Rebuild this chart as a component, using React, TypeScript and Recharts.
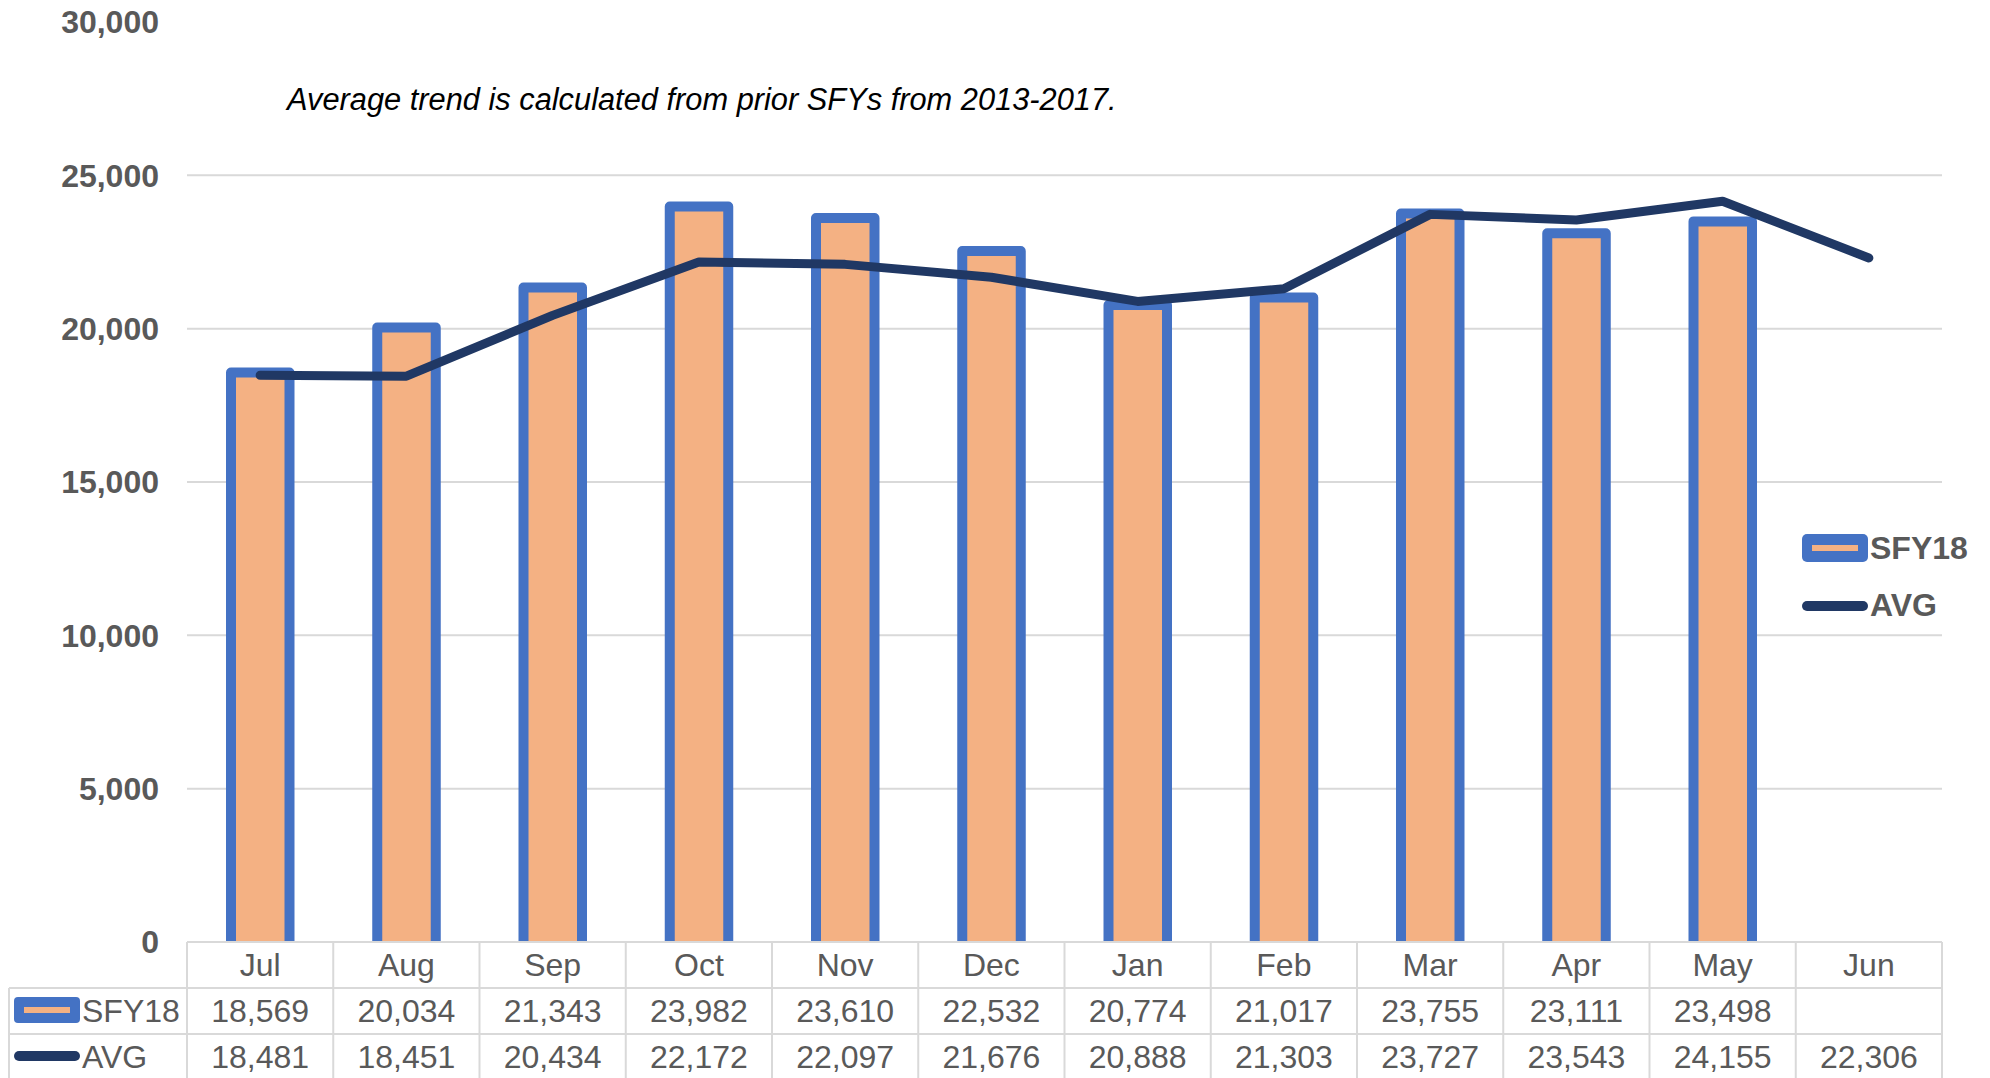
import React from 'react';
import { ComposedChart, Bar, Line, XAxis, YAxis, CartesianGrid } from 'recharts';

const months = ['Jul', 'Aug', 'Sep', 'Oct', 'Nov', 'Dec', 'Jan', 'Feb', 'Mar', 'Apr', 'May', 'Jun'];
const sfy18: (number | null)[] = [18569, 20034, 21343, 23982, 23610, 22532, 20774, 21017, 23755, 23111, 23498, null];
const avg: number[] = [18481, 18451, 20434, 22172, 22097, 21676, 20888, 21303, 23727, 23543, 24155, 22306];
const yTicks = [0, 5000, 10000, 15000, 20000, 25000, 30000];
const gridValues = [5000, 10000, 15000, 20000, 25000];
const note = 'Average trend is calculated from prior SFYs from 2013-2017.';

const data = months.map((m, i) => ({ month: m, sfy18: sfy18[i], avg: avg[i] }));

const W = 1990;
const H = 1078;
const M_TOP = 22;
const M_RIGHT = 48;
const Y_W = 187;
const X_H = 136;
const PLOT_W = W - M_RIGHT - Y_W;
const AXIS_Y = H - X_H;
const CELL_W = PLOT_W / months.length;
const ROW1 = AXIS_Y + 46;
const ROW2 = AXIS_Y + 92;
const FONT = '"Liberation Sans", Arial, sans-serif';
const GRAY = '#595959';
const LINE_GRAY = '#D9D9D9';
const BLUE = '#4472C4';
const ORANGE = '#F4B183';
const NAVY = '#203864';

const fmt = (v: number | null) => (v == null ? '' : v.toLocaleString('en-US'));

const TableTick = (props: any) => {
  const { x, payload, index } = props;
  const i = index as number;
  const l = x - CELL_W / 2;
  const r = x + CELL_W / 2;
  const textProps = {
    textAnchor: 'middle' as const,
    dominantBaseline: 'central' as const,
    fontSize: 32,
    fill: GRAY,
    fontFamily: FONT,
  };
  return (
    <g>
      <line x1={l} x2={l} y1={AXIS_Y} y2={H + 5} stroke={LINE_GRAY} strokeWidth={2} />
      {i === months.length - 1 && (
        <line x1={r} x2={r} y1={AXIS_Y} y2={H + 5} stroke={LINE_GRAY} strokeWidth={2} />
      )}
      <line x1={l} x2={r} y1={ROW1} y2={ROW1} stroke={LINE_GRAY} strokeWidth={2} />
      <line x1={l} x2={r} y1={ROW2} y2={ROW2} stroke={LINE_GRAY} strokeWidth={2} />
      <text x={x} y={AXIS_Y + 23} {...textProps}>{payload.value}</text>
      <text x={x} y={ROW1 + 23} {...textProps}>{fmt(sfy18[i])}</text>
      <text x={x} y={ROW2 + 23} {...textProps}>{fmt(avg[i])}</text>
      {i === 0 && (
        <g>
          <line x1={9} x2={l} y1={ROW1} y2={ROW1} stroke={LINE_GRAY} strokeWidth={2} />
          <line x1={9} x2={l} y1={ROW2} y2={ROW2} stroke={LINE_GRAY} strokeWidth={2} />
          <line x1={9} x2={9} y1={ROW1} y2={H + 5} stroke={LINE_GRAY} strokeWidth={2} />
          <rect x={14} y={ROW1 + 9} width={66} height={26} rx={4} fill={BLUE} />
          <rect x={24} y={ROW1 + 19} width={46} height={6} fill={ORANGE} />
          <text x={82} y={ROW1 + 23} dominantBaseline="central" fontSize={32} fill={GRAY} fontFamily={FONT}>SFY18</text>
          <line x1={19} x2={75} y1={ROW2 + 22} y2={ROW2 + 22} stroke={NAVY} strokeWidth={10} strokeLinecap="round" />
          <text x={82} y={ROW2 + 23} dominantBaseline="central" fontSize={32} fill={GRAY} fontFamily={FONT}>AVG</text>
        </g>
      )}
    </g>
  );
};

const BarShape = (props: any) => {
  const { x, y, width, height } = props;
  if (!height || height <= 0) return null;
  const d = `M${x},${y + height} L${x},${y} L${x + width},${y} L${x + width},${y + height}`;
  return (
    <g>
      <rect x={x} y={y} width={width} height={height} fill={ORANGE} />
      <path d={d} fill="none" stroke={BLUE} strokeWidth={10} strokeLinejoin="round" />
    </g>
  );
};

const LegendBox = () => (
  <div style={{ position: 'absolute', left: 1802, top: 520, width: 190, height: 110, fontFamily: FONT }}>
    <svg width={66} height={28} style={{ position: 'absolute', left: 0, top: 14 }}>
      <rect x={0} y={0} width={66} height={28} rx={5} fill={BLUE} />
      <rect x={10} y={11} width={46} height={6} fill={ORANGE} />
    </svg>
    <div style={{ position: 'absolute', left: 68, top: 12, fontSize: 32, lineHeight: '32px', fontWeight: 'bold', color: GRAY }}>SFY18</div>
    <svg width={66} height={12} style={{ position: 'absolute', left: 0, top: 80 }}>
      <line x1={5} x2={61} y1={6} y2={6} stroke={NAVY} strokeWidth={10} strokeLinecap="round" />
    </svg>
    <div style={{ position: 'absolute', left: 68, top: 69, fontSize: 32, lineHeight: '32px', fontWeight: 'bold', color: GRAY }}>AVG</div>
  </div>
);

export default function App() {
  return (
    <div style={{ position: 'absolute', left: 0, top: 0, width: W, height: H, overflow: 'hidden', background: '#fff' }}>
      <ComposedChart
        width={W}
        height={H}
        data={data}
        margin={{ top: M_TOP, right: M_RIGHT, bottom: 0, left: 0 }}
      >
        <CartesianGrid vertical={false} horizontalValues={gridValues} stroke={LINE_GRAY} strokeWidth={2} />
        <XAxis
          dataKey="month"
          height={X_H}
          interval={0}
          tickLine={false}
          axisLine={{ stroke: LINE_GRAY, strokeWidth: 2 }}
          tick={<TableTick />}
        />
        <YAxis
          width={Y_W}
          domain={[0, 30000]}
          ticks={yTicks}
          interval={0}
          tickLine={false}
          axisLine={false}
          tickSize={0}
          tickMargin={28}
          tickFormatter={(v: number) => v.toLocaleString('en-US')}
          tick={{ fontSize: 32, fontWeight: 'bold', fill: GRAY, fontFamily: FONT }}
        />
        <Bar dataKey="sfy18" name="SFY18" barSize={58.5} shape={<BarShape />} isAnimationActive={false} />
        <Line
          dataKey="avg"
          name="AVG"
          type="linear"
          stroke={NAVY}
          strokeWidth={9}
          strokeLinecap="round"
          strokeLinejoin="round"
          dot={false}
          activeDot={false}
          isAnimationActive={false}
        />
      </ComposedChart>
      <LegendBox />
      <div
        style={{
          position: 'absolute',
          left: 287,
          top: 82,
          fontFamily: FONT,
          fontStyle: 'italic',
          fontSize: 30.8,
          lineHeight: '36px',
          color: '#000',
          whiteSpace: 'nowrap',
        }}
      >
        {note}
      </div>
    </div>
  );
}
